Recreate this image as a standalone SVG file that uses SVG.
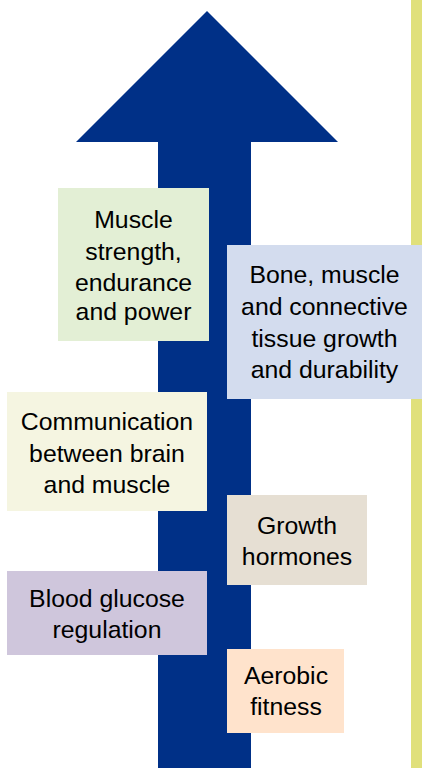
<svg xmlns="http://www.w3.org/2000/svg" width="422" height="769" viewBox="0 0 422 769">
<style>
.t{font-family:"Liberation Sans",Arial,sans-serif;font-size:24.8px;fill:#000;text-anchor:middle}
</style>
<rect x="0" y="0" width="422" height="769" fill="#fff"/>
<rect x="411" y="0" width="11" height="768" fill="#E0E07B"/>
<g id="arrow">
<polygon points="207,11 338,142 251,142 251,768 158,768 158,142 76,142" fill="#003087"/>
</g>
<g id="connectors"></g>
<g id="n1">
<rect x="58" y="188" width="151" height="153" fill="#E3EFD5"/>
<text class="t" x="133.5" y="228">Muscle</text>
<text class="t" x="133.5" y="260">strength,</text>
<text class="t" x="133.5" y="291">endurance</text>
<text class="t" x="133.5" y="320">and power</text>
</g>
<g id="n2">
<rect x="227" y="245" width="195" height="154" fill="#D3DCEE"/>
<text class="t" x="324.5" y="283">Bone, muscle</text>
<text class="t" x="324.5" y="315">and connective</text>
<text class="t" x="324.5" y="347">tissue growth</text>
<text class="t" x="324.5" y="378">and durability</text>
</g>
<g id="n3">
<rect x="7" y="392" width="200" height="119" fill="#F5F5E1"/>
<text class="t" x="107" y="430">Communication</text>
<text class="t" x="107" y="462">between brain</text>
<text class="t" x="107" y="493">and muscle</text>
</g>
<g id="n4">
<rect x="227" y="495" width="140" height="90" fill="#E6DFD3"/>
<text class="t" x="297" y="534">Growth</text>
<text class="t" x="297" y="565">hormones</text>
</g>
<g id="n5">
<rect x="7" y="571" width="200" height="84" fill="#CFC6DC"/>
<text class="t" x="107" y="607">Blood glucose</text>
<text class="t" x="107" y="638">regulation</text>
</g>
<g id="n6">
<rect x="227" y="649" width="117" height="84" fill="#FFE3CC"/>
<text class="t" x="286" y="684">Aerobic</text>
<text class="t" x="286" y="715">fitness</text>
</g>
</svg>
